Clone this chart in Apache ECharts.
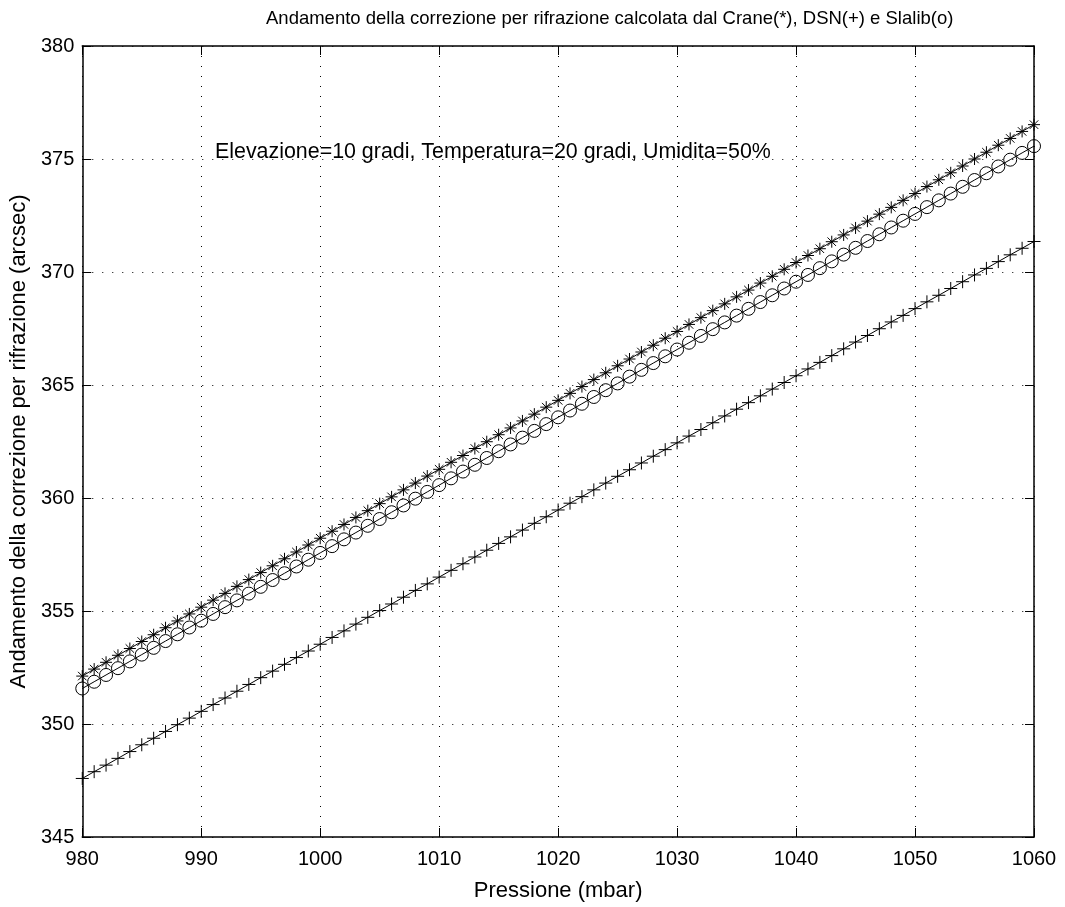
<!DOCTYPE html>
<html>
<head>
<meta charset="utf-8">
<script src="https://cdn.jsdelivr.net/npm/echarts@6/dist/echarts.min.js"></script>
<style>
html,body{margin:0;padding:0;background:#fff;}
#chart{width:1065px;height:907px;}
</style>
</head>
<body>
<div id="chart"></div>
<script>
// Pressure (mbar)
const pressione = [980,981,982,983,984,985,986,987,988,989,
  990,991,992,993,994,995,996,997,998,999,
  1000,1001,1002,1003,1004,1005,1006,1007,1008,1009,
  1010,1011,1012,1013,1014,1015,1016,1017,1018,1019,
  1020,1021,1022,1023,1024,1025,1026,1027,1028,1029,
  1030,1031,1032,1033,1034,1035,1036,1037,1038,1039,
  1040,1041,1042,1043,1044,1045,1046,1047,1048,1049,
  1050,1051,1052,1053,1054,1055,1056,1057,1058,1059,
  1060];

// Crane (*)
const crane = [352.12,352.43,352.73,353.04,353.34,353.65,353.95,354.26,354.56,354.87,
  355.17,355.48,355.78,356.09,356.39,356.70,357.00,357.31,357.61,357.92,
  358.22,358.53,358.83,359.14,359.44,359.75,360.05,360.36,360.66,360.97,
  361.27,361.58,361.88,362.19,362.49,362.80,363.10,363.41,363.71,364.02,
  364.32,364.63,364.93,365.24,365.54,365.85,366.15,366.46,366.76,367.07,
  367.37,367.68,367.98,368.29,368.59,368.90,369.20,369.51,369.81,370.12,
  370.42,370.73,371.03,371.34,371.64,371.95,372.25,372.56,372.86,373.17,
  373.47,373.78,374.08,374.39,374.69,375.00,375.30,375.61,375.91,376.22,
  376.52];

// DSN (+)
const dsn = [347.59,347.89,348.18,348.48,348.78,349.08,349.37,349.67,349.97,350.26,
  350.56,350.86,351.15,351.45,351.75,352.05,352.34,352.64,352.94,353.23,
  353.53,353.83,354.12,354.42,354.72,355.02,355.31,355.61,355.91,356.20,
  356.50,356.80,357.09,357.39,357.69,357.99,358.28,358.58,358.88,359.17,
  359.47,359.77,360.06,360.36,360.66,360.96,361.25,361.55,361.85,362.14,
  362.44,362.74,363.03,363.33,363.63,363.93,364.22,364.52,364.82,365.11,
  365.41,365.71,366.00,366.30,366.60,366.90,367.19,367.49,367.79,368.08,
  368.38,368.68,368.97,369.27,369.57,369.87,370.16,370.46,370.76,371.05,
  371.35];

// Slalib (o)
const slalib = [351.57,351.87,352.17,352.47,352.77,353.07,353.37,353.67,353.97,354.27,
  354.57,354.87,355.17,355.47,355.77,356.07,356.37,356.67,356.97,357.27,
  357.57,357.87,358.17,358.47,358.77,359.07,359.37,359.67,359.97,360.27,
  360.57,360.87,361.17,361.47,361.77,362.07,362.37,362.67,362.97,363.27,
  363.57,363.87,364.17,364.47,364.77,365.07,365.37,365.67,365.97,366.27,
  366.57,366.87,367.17,367.47,367.77,368.07,368.37,368.67,368.97,369.27,
  369.57,369.87,370.17,370.47,370.77,371.07,371.37,371.67,371.97,372.27,
  372.57,372.87,373.17,373.47,373.77,374.07,374.37,374.67,374.97,375.27,
  375.57];

const titleText = 'Andamento della correzione per rifrazione calcolata dal Crane(*), DSN(+) e Slalib(o)';
const xName = 'Pressione (mbar)';
const yName = 'Andamento della correzione per rifrazione (arcsec)';
const noteText = 'Elevazione=10 gradi, Temperatura=20 gradi, Umidita=50%';

const FONT = '"Liberation Sans", Arial, Helvetica, sans-serif';

function pairs(ys){ return pressione.map((x,i)=>[x, ys[i]]); }

const starPath = 'path://M5,0L5,10M0,5L10,5M1.46,1.46L8.54,8.54M8.54,1.46L1.46,8.54';
const plusPath = 'path://M5,0L5,10M0,5L10,5';

const grid = {left:79, right:31, top:46, bottom:63};

const chart = echarts.init(document.getElementById('chart'), null, {renderer:'canvas'});

const dotted = {color:'#000', width:1, type:[1,9]};

function mkSeries(name, ys, symbol, size){
  return {
    name, type:'line', data: pairs(ys),
    symbol, symbolSize: size, showAllSymbol:true, clip:false,
    lineStyle:{color:'#000', width:1},
    itemStyle:{color:'none', borderColor:'#000', borderWidth:1},
    emphasis:{disabled:true},
    z: 3
  };
}

chart.setOption({
  animation:false,
  backgroundColor:'#fff',
  textStyle:{fontFamily:FONT, color:'#000'},
  grid: grid,
  xAxis:[{
    type:'value', min:980, max:1060, interval:10, position:'bottom',
    name:xName, nameLocation:'middle', nameGap:43,
    nameTextStyle:{fontSize:22, color:'#000', fontFamily:FONT},
    axisLine:{show:true, onZero:false, lineStyle:{color:'#000', width:1.5}},
    axisTick:{show:true, inside:true, length:9, lineStyle:{color:'#000', width:1}},
    axisLabel:{fontSize:20, color:'#000', margin:12, fontFamily:FONT, formatter:v=>String(v)},
    splitLine:{show:true, lineStyle:dotted}
  },{
    type:'value', min:980, max:1060, interval:10, position:'top',
    axisLine:{show:true, onZero:false, lineStyle:{color:'#000', width:1.5}},
    axisTick:{show:true, inside:true, length:9, lineStyle:{color:'#000', width:1}},
    axisLabel:{show:false}, splitLine:{show:false}
  }],
  yAxis:[{
    type:'value', min:345, max:380, interval:5, position:'left',
    name:yName, nameLocation:'middle', nameGap:47, nameRotate:90,
    nameTextStyle:{fontSize:22, color:'#000', fontFamily:FONT},
    axisLine:{show:true, onZero:false, lineStyle:{color:'#000', width:1.5}},
    axisTick:{show:true, inside:true, length:9, lineStyle:{color:'#000', width:1}},
    axisLabel:{fontSize:20, color:'#000', margin:8, fontFamily:FONT, formatter:v=>String(v)},
    splitLine:{show:true, lineStyle:dotted}
  },{
    type:'value', min:345, max:380, interval:5, position:'right',
    axisLine:{show:true, onZero:false, lineStyle:{color:'#000', width:1.5}},
    axisTick:{show:true, inside:true, length:9, lineStyle:{color:'#000', width:1}},
    axisLabel:{show:false}, splitLine:{show:false}
  }],
  graphic:[
    {type:'text', x:266, y:19, style:{text:titleText, fontSize:18.5, fontFamily:FONT, fill:'#000', verticalAlign:'middle', textAlign:'left'}},
    {type:'text', x:215, y:152, style:{text:noteText, fontSize:21.4, fontFamily:FONT, fill:'#000', verticalAlign:'middle', textAlign:'left'}}
  ],
  series:[
    mkSeries('Crane', crane, starPath, 12),
    mkSeries('DSN', dsn, plusPath, 13),
    mkSeries('Slalib', slalib, 'circle', 13)
  ]
});
</script>
</body>
</html>
